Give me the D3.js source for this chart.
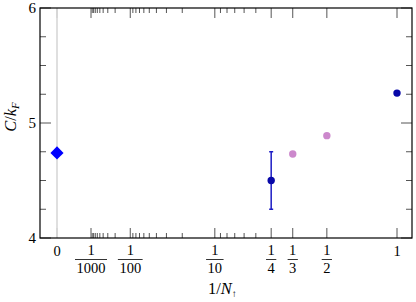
<!DOCTYPE html>
<html lang="en">
  <head>
    <script src="https://d3js.org/d3.v7.min.js"></script>
    <style>
      body { margin: 0; background: white; }
      text { font-family: "Liberation Serif", "DejaVu Serif", serif; fill: black; }
      .frame { fill: none; stroke: black; stroke-width: 1.2; }
      .tick { stroke: #555; stroke-width: 1; }
      .zero { stroke: #d4d4d4; stroke-width: 1.5; }
    </style>
  </head>
  <body>
    <div id="chart"></div>
    <script>
      // Data
      let majorTicks = [0, 1 / 1000, 1 / 100, 1 / 10, 1 / 4, 1 / 3, 1 / 2, 1];
      let majorLabels = ["0", "1000", "100", "10", "4", "3", "2", "1"];
      let minorDenoms = [200, 300, 400, 500, 600, 700, 800, 900,
                         20, 30, 40, 50, 60, 70, 80, 90,
                         5, 6, 7, 8, 9];
      let yMajor = [4, 5, 6];
      let yMinor = [4.25, 4.5, 4.75, 5.25, 5.5, 5.75];

      let extrapX = [0];
      let extrapC = [4.74];

      let qmcN = [4, 1];
      let qmcC = [4.5, 5.26];
      let qmcErr = [0.25, 0];

      let otherN = [3, 2];
      let otherC = [4.73, 4.89];

      let width = 416;
      let height = 302;
      let mLeft = 40, mRight = 412, mTop = 8, mBottom = 238;

      let svg = d3.select("#chart").append("svg")
        .attr("width", width).attr("height", height);

      let x = d3.scalePow().exponent(1 / 3).domain([0, 1]).range([57, 397]);
      let y = d3.scaleLinear().domain([4, 6]).range([mBottom, mTop]);

      // zero line
      svg.append("line").attr("class", "zero")
        .attr("x1", x(0)).attr("x2", x(0))
        .attr("y1", mTop).attr("y2", mBottom);

      // x ticks (top and bottom, inward)
      let xt = svg.append("g");
      majorTicks.forEach(function (v, i) {
        let cls = i === 0 ? "tick zero" : "tick";
        xt.append("line").attr("class", cls)
          .attr("x1", x(v)).attr("x2", x(v)).attr("y1", mBottom).attr("y2", mBottom - 10);
        xt.append("line").attr("class", cls)
          .attr("x1", x(v)).attr("x2", x(v)).attr("y1", mTop).attr("y2", mTop + 10);
      });
      minorDenoms.forEach(function (n) {
        let v = 1 / n;
        xt.append("line").attr("class", "tick")
          .attr("x1", x(v)).attr("x2", x(v)).attr("y1", mBottom).attr("y2", mBottom - 5);
        xt.append("line").attr("class", "tick")
          .attr("x1", x(v)).attr("x2", x(v)).attr("y1", mTop).attr("y2", mTop + 5);
      });

      // y ticks (left and right, inward)
      let yt = svg.append("g");
      yMajor.forEach(function (v) {
        yt.append("line").attr("class", "tick")
          .attr("x1", mLeft).attr("x2", mLeft + 11).attr("y1", y(v)).attr("y2", y(v));
        yt.append("line").attr("class", "tick")
          .attr("x1", mRight).attr("x2", mRight - 11).attr("y1", y(v)).attr("y2", y(v));
        yt.append("text").attr("x", mLeft - 4).attr("y", y(v) + 5)
          .attr("text-anchor", "end").attr("font-size", 15).text(v);
      });
      yMinor.forEach(function (v) {
        yt.append("line").attr("class", "tick")
          .attr("x1", mLeft).attr("x2", mLeft + 6).attr("y1", y(v)).attr("y2", y(v));
        yt.append("line").attr("class", "tick")
          .attr("x1", mRight).attr("x2", mRight - 6).attr("y1", y(v)).attr("y2", y(v));
      });

      // x tick labels, fractions
      let xl = svg.append("g");
      majorTicks.forEach(function (v, i) {
        let cx = x(v);
        if (v === 0 || v === 1) {
          xl.append("text").attr("x", cx).attr("y", 256)
            .attr("text-anchor", "middle").attr("font-size", 14.5).text(majorLabels[i]);
          return;
        }
        xl.append("text").attr("x", cx).attr("y", 255)
          .attr("text-anchor", "middle").attr("font-size", 14.5).text("1");
        let den = xl.append("text").attr("x", cx).attr("y", 273)
          .attr("text-anchor", "middle").attr("font-size", 14.5).text(majorLabels[i]);
        let w = den.node().getComputedTextLength() + 3;
        xl.append("line").attr("x1", cx - w / 2).attr("x2", cx + w / 2)
          .attr("y1", 259.5).attr("y2", 259.5)
          .attr("stroke", "black").attr("stroke-width", 0.8);
      });

      // axis titles
      let xTitle = svg.append("text").attr("x", 208).attr("y", 294).attr("font-size", 16.5);
      xTitle.append("tspan").text("1/");
      xTitle.append("tspan").attr("font-style", "italic").text("N");
      xTitle.append("tspan").attr("font-size", 10).attr("dy", 3).text("↑");

      let yTitle = svg.append("text")
        .attr("transform", "translate(16,117) rotate(-90)")
        .attr("text-anchor", "middle").attr("font-size", 16.5);
      yTitle.append("tspan").attr("font-style", "italic").text("C");
      yTitle.append("tspan").text("/");
      yTitle.append("tspan").attr("font-style", "italic").text("k");
      yTitle.append("tspan").attr("font-style", "italic").attr("font-size", 11)
        .attr("dy", 3).text("F");

      // frame
      svg.append("rect").attr("class", "frame")
        .attr("x", mLeft).attr("y", mTop)
        .attr("width", mRight - mLeft).attr("height", mBottom - mTop);

      // extrapolated value: diamond
      svg.append("g").selectAll("path").data(extrapX).enter().append("path")
        .attr("d", d3.symbol().type(d3.symbolDiamond2).size(110))
        .attr("transform", function (d, i) {
          return "translate(" + x(d) + "," + y(extrapC[i]) + ")";
        })
        .attr("fill", "#0000ff");

      // error bars
      let eb = svg.append("g").attr("stroke", "#1c1cc4").attr("stroke-width", 1.5);
      qmcN.forEach(function (n, i) {
        if (qmcErr[i] === 0) return;
        let cx = x(1 / n);
        let lo = y(qmcC[i] - qmcErr[i]), hi = y(qmcC[i] + qmcErr[i]);
        eb.append("line").attr("x1", cx).attr("x2", cx).attr("y1", lo).attr("y2", hi);
        eb.append("line").attr("x1", cx - 2).attr("x2", cx + 2).attr("y1", lo).attr("y2", lo);
        eb.append("line").attr("x1", cx - 2).attr("x2", cx + 2).attr("y1", hi).attr("y2", hi);
      });

      svg.append("g").selectAll("circle").data(otherN).enter().append("circle")
        .attr("cx", function (d) { return x(1 / d); })
        .attr("cy", function (d, i) { return y(otherC[i]); })
        .attr("r", 3.7).attr("fill", "#cc88cc");

      svg.append("g").selectAll("circle").data(qmcN).enter().append("circle")
        .attr("cx", function (d) { return x(1 / d); })
        .attr("cy", function (d, i) { return y(qmcC[i]); })
        .attr("r", 3.7).attr("fill", "#0808a8");
    </script>
  </body>
</html>
